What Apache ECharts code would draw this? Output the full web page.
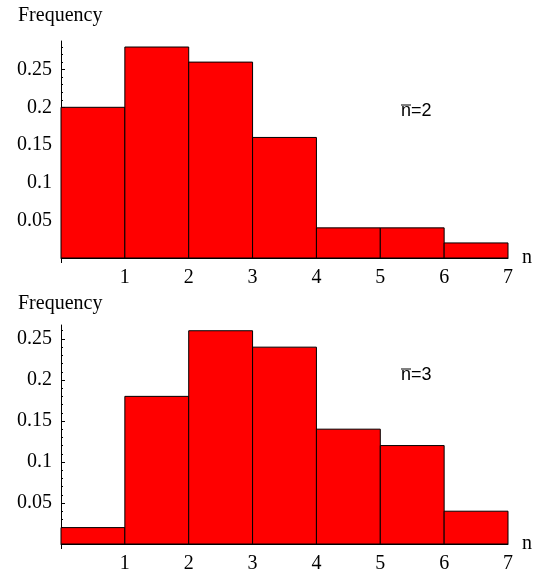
<!DOCTYPE html>
<html>
<head>
<meta charset="utf-8">
<script src="https://cdn.jsdelivr.net/npm/echarts@6/dist/echarts.min.js"></script>
<style>
  html, body { margin: 0; padding: 0; background: #fff; }
  #chart { width: 547px; height: 574px; }
</style>
</head>
<body>
<div id="chart"></div>
<script>
// histogram bins: n from 0 to 7, one bar per unit
const binStarts = [0, 1, 2, 3, 4, 5, 6];
const freqMean2 = [0.20, 0.28, 0.26, 0.16, 0.04, 0.04, 0.02];
const freqMean3 = [0.02, 0.18, 0.26, 0.24, 0.14, 0.12, 0.04];
const xTickLabels = [1, 2, 3, 4, 5, 6, 7];
const yTickLabels = [0.05, 0.1, 0.15, 0.2, 0.25];

const serif = 'Liberation Serif, Times New Roman, serif';
const sans = 'Liberation Sans, Arial, sans-serif';

// minor ticks every 0.01 up to the axis top
function minorTicks(max) {
  const out = [];
  for (let k = 0; k / 100 <= max + 1e-9; k++) out.push(k / 100);
  return out;
}

function binData(freqs) {
  return binStarts.map((s, i) => [s, s + 1, freqs[i]]);
}

function renderBin(params, api) {
  const p0 = api.coord([api.value(0), 0]);
  const p1 = api.coord([api.value(1), api.value(2)]);
  return {
    type: 'rect',
    shape: { x: p0[0], y: p1[1], width: p1[0] - p0[0], height: p0[1] - p1[1] },
    style: { fill: '#ff0000', stroke: '#000', lineWidth: 1 }
  };
}

const grids = [
  { left: 61, top: 41, width: 447, height: 217, max: 0.288 },
  { left: 61, top: 325, width: 447, height: 219, max: 0.267 }
];

const xAxes = grids.map((g, i) => ({
  type: 'value',
  gridIndex: i,
  min: 0,
  max: 7,
  interval: 1,
  name: 'n',
  nameLocation: 'end',
  nameGap: 14,
  nameTextStyle: { fontFamily: serif, fontSize: 20, color: '#000', padding: [0, 0, 0, 0] },
  axisLine: { show: true, lineStyle: { color: '#000', width: 1 } },
  axisTick: { show: true, customValues: [0], length: 5, lineStyle: { color: '#000' } },
  axisLabel: { customValues: xTickLabels, margin: 10, fontFamily: serif, fontSize: 20, color: '#000' },
  splitLine: { show: false }
}));

const yAxes = [];
grids.forEach((g, i) => {
  yAxes.push({
    type: 'value',
    gridIndex: i,
    position: 'left',
    min: 0,
    max: g.max,
    axisLine: { show: true, lineStyle: { color: '#000', width: 1 } },
    axisTick: { show: true, inside: true, length: 2, customValues: minorTicks(g.max), lineStyle: { color: '#000' } },
    axisLabel: { customValues: yTickLabels, margin: 9, fontFamily: serif, fontSize: 20, color: '#000' },
    splitLine: { show: false }
  });
  yAxes.push({
    type: 'value',
    gridIndex: i,
    position: 'left',
    min: 0,
    max: g.max,
    axisLine: { show: false },
    axisTick: { show: true, inside: true, length: 4, customValues: yTickLabels, lineStyle: { color: '#000' } },
    axisLabel: { show: false },
    splitLine: { show: false }
  });
});

function meanLabel(text, cy) {
  return [
    {
      type: 'text', left: 401, top: cy - 11,
      style: { text: text, fontFamily: sans, fontSize: 18, fill: '#000' }
    },
    {
      type: 'line',
      shape: { x1: 401, y1: cy - 8, x2: 411, y2: cy - 8 },
      style: { stroke: '#000', lineWidth: 1 }
    }
  ];
}

const chart = echarts.init(document.getElementById('chart'), null, { renderer: 'canvas' });
chart.setOption({
  animation: false,
  backgroundColor: '#fff',
  grid: grids.map(g => ({ left: g.left, top: g.top, width: g.width, height: g.height })),
  xAxis: xAxes,
  yAxis: yAxes,
  graphic: [
    { type: 'text', left: 18, top: 6, style: { text: 'Frequency', fontFamily: serif, fontSize: 20, fill: '#000' } },
    { type: 'text', left: 18, top: 294, style: { text: 'Frequency', fontFamily: serif, fontSize: 20, fill: '#000' } },
    ...meanLabel('n=2', 113),
    ...meanLabel('n=3', 377)
  ],
  series: [
    {
      type: 'custom',
      xAxisIndex: 0,
      yAxisIndex: 0,
      renderItem: renderBin,
      encode: { x: [0, 1], y: 2 },
      data: binData(freqMean2)
    },
    {
      type: 'custom',
      xAxisIndex: 1,
      yAxisIndex: 2,
      renderItem: renderBin,
      encode: { x: [0, 1], y: 2 },
      data: binData(freqMean3)
    }
  ]
});
</script>
</body>
</html>
